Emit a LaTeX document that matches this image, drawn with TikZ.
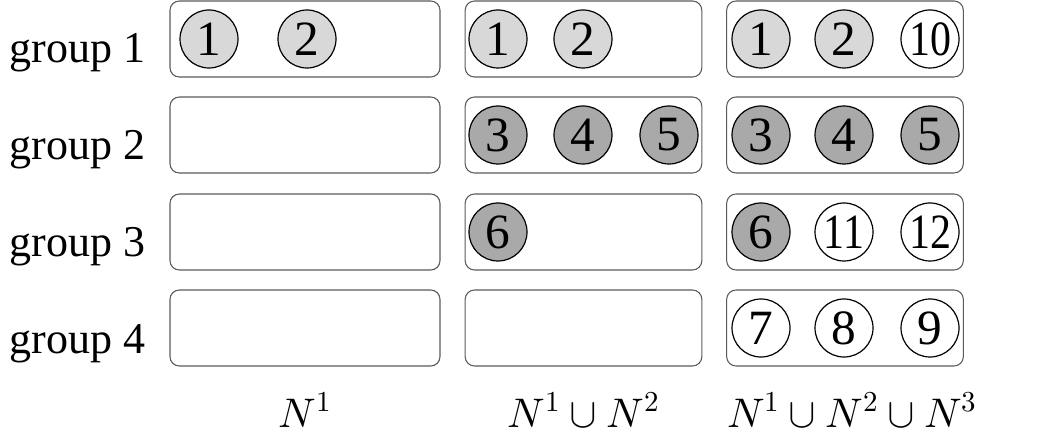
\documentclass[tikz,border=0pt]{standalone}
\usepackage{fontspec}
\usepackage{unicode-math}
\setmainfont{Liberation Serif}
\setmathfont{Latin Modern Math}
\usepackage{xcolor}
\usetikzlibrary{positioning}
\definecolor{grpframe}{HTML}{5A5A5A}
\definecolor{grplight}{HTML}{D8D8D8}
\definecolor{grpdark}{HTML}{A9A9A9}

\begin{document}
\begin{tikzpicture}[
  x=0.75pt,y=-0.75pt,
  groupbox/.style={draw=grpframe,line width=0.8pt,rounded corners=7pt,
    minimum height=57pt,inner sep=0pt},
  widebox/.style={groupbox,minimum width=202.5pt},
  narrowbox/.style={groupbox,minimum width=177.5pt},
  member/.style={circle,draw=black,line width=0.9pt,minimum size=43.5pt,
    inner sep=0pt,font=\fontsize{37}{42}\selectfont},
  firstgrp/.style={member,fill=grplight},
  secondgrp/.style={member,fill=grpdark},
  newcomer/.style={member,fill=white},
  rowlabel/.style={anchor=base east,font=\fontsize{33}{38}\selectfont},
  setlabel/.style={anchor=base,font=\fontsize{31}{36}\selectfont}
]
  \useasboundingbox (0,0) rectangle (1055,434);

  % row labels
  \node[rowlabel] (lab1) at (150,63) {group 1};
  \node[rowlabel] (lab2) at (150,160) {group 2};
  \node[rowlabel] (lab3) at (150,257) {group 3};
  \node[rowlabel] (lab4) at (150,353) {group 4};

  % first column: N^1
  \node[widebox] (a1) at (305,39) {};
  \node[widebox] (a2) at (305,135) {};
  \node[widebox] (a3) at (305,232) {};
  \node[widebox] (a4) at (305,328) {};
  \node[firstgrp] at (209,39) {1};
  \node[firstgrp] at (307,39) {2};

  % second column: N^1 u N^2
  \node[narrowbox] (b1) at (583.5,39) {};
  \node[narrowbox] (b2) at (583.5,135) {};
  \node[narrowbox] (b3) at (583.5,232) {};
  \node[narrowbox] (b4) at (583.5,328) {};
  \node[firstgrp] at (498,39) {1};
  \node[firstgrp] at (583,39) {2};
  \node[secondgrp] at (498,135) {3};
  \node[secondgrp] at (583,135) {4};
  \node[secondgrp] at (669,135) {5};
  \node[secondgrp] at (498,232) {6};

  % third column: N^1 u N^2 u N^3
  \node[narrowbox] (c1) at (845,39) {};
  \node[narrowbox] (c2) at (845,135) {};
  \node[narrowbox] (c3) at (845,232) {};
  \node[narrowbox] (c4) at (845,328) {};
  \node[firstgrp] at (761,39) {1};
  \node[firstgrp] at (844,39) {2};
  \node[newcomer] at (930,39) {\scalebox{0.85}[1]{10}};
  \node[secondgrp] at (761,135) {3};
  \node[secondgrp] at (844,135) {4};
  \node[secondgrp] at (930,135) {5};
  \node[secondgrp] at (761,232) {6};
  \node[newcomer] at (844,232) {\scalebox{0.85}[1]{11}};
  \node[newcomer] at (930,232) {\scalebox{0.85}[1]{12}};
  \node[newcomer] at (761,328) {7};
  \node[newcomer] at (844,328) {8};
  \node[newcomer] at (930,328) {9};

  % set labels
  \node[setlabel] (set1) at (305,427) {$N^1$};
  \node[setlabel] (set2) at (583.5,427) {$N^1\cup N^2$};
  \node[setlabel] (set3) at (852,427) {$N^1\cup N^2\cup N^3$};
\end{tikzpicture}
\end{document}
